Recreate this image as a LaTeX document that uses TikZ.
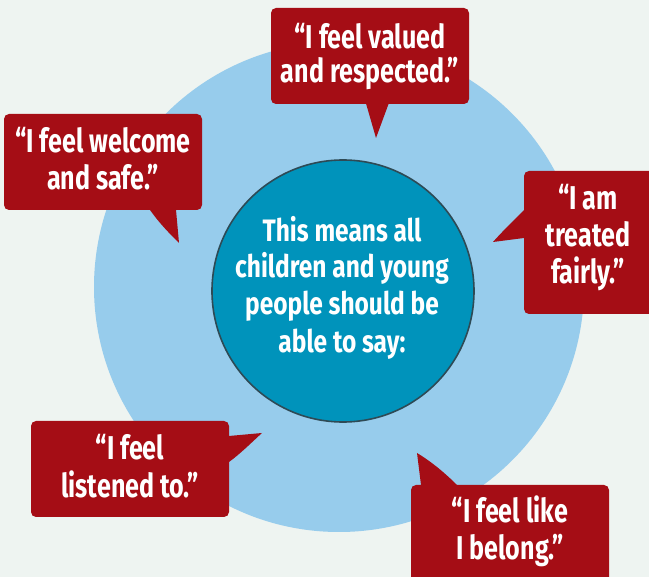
\documentclass[tikz,border=0pt]{standalone}
\usepackage{fontspec}
\newfontfamily\bubblefont[FakeStretch=0.76]{Fira Sans}
\newfontfamily\circlefont[FakeStretch=0.79]{Fira Sans}
\definecolor{bgcol}{RGB}{238,244,241}
\definecolor{outercol}{RGB}{151,204,236}
\definecolor{innercol}{RGB}{0,147,187}
\definecolor{innerline}{RGB}{46,74,85}
\definecolor{qred}{RGB}{165,13,21}
\begin{document}
\begin{tikzpicture}[x=1pt,y=-1pt,
  btxt/.style={text=white, font=\bubblefont\bfseries\fontsize{33}{37}\selectfont, anchor=base, inner sep=0pt},
  ctxt/.style={text=white, font=\circlefont\bfseries\fontsize{31}{37}\selectfont, anchor=base, inner sep=0pt},
  bubble/.style={fill=qred, rounded corners=5pt},
  tail/.style={fill=qred}]
\fill[bgcol] (0,0) rectangle (649,577);
\useasboundingbox (0,0) rectangle (649,577);
% circles
\node[circle, fill=outercol, minimum size=490pt, inner sep=0pt] (outer) at (339,287) {};
\node[circle, fill=innercol, draw=innerline, line width=1.6pt, minimum size=262pt, inner sep=0pt] (inner) at (343,291) {};
\node[ctxt] (c1) at (342,242) {This means all};
\node[ctxt] (c2) at (342,278) {children and young};
\node[ctxt] (c3) at (342,315) {people should be};
\node[ctxt] (c4) at (342,353) {able to say:};
% top bubble
\fill[bubble] (271,8) rectangle (469,104);
\fill[tail] (365,100) -- (390,100) -- (376,138) -- cycle;
\node[btxt] (t1) at (370,49) {“I feel valued};
\node[btxt] (t2) at (370,83) {and respected.”};
% left bubble
\fill[bubble] (4,114) rectangle (202,210);
\fill[tail] (150,206) -- (150,210) .. controls (160,224) and (170,234) .. (179,243) -- (176,210) -- (176,206) -- cycle;
\node[btxt] (l1) at (103,153) {“I feel welcome};
\node[btxt] (l2) at (103,190) {and safe.”};
% right bubble
\fill[bubble] (524,171) rectangle (656,314);
\fill[tail] (528,210) -- (524,210) .. controls (510,224) and (500,234) .. (493,242) -- (524,238) -- (528,238) -- cycle;
\node[btxt] (r1) at (588,210) {“I am};
\node[btxt] (r2) at (588,247) {treated};
\node[btxt] (r3) at (588,284) {fairly.”};
% bottom-left bubble
\fill[bubble] (31,421) rectangle (229,517);
\fill[tail] (225,436) -- (229,436) -- (262,433) .. controls (250,444) and (240,454) .. (229,462) -- (225,462) -- cycle;
\node[btxt] (b1) at (130,460) {“I feel};
\node[btxt] (b2) at (130,498) {listened to.”};
% bottom-right bubble
\fill[bubble] (411,485) rectangle (609,585);
\fill[tail] (421,489) -- (421,485) -- (417,453) .. controls (432,462) and (446,474) .. (457,485) -- (457,489) -- cycle;
\node[btxt] (d1) at (510,523) {“I feel like};
\node[btxt] (d2) at (510,560) {I belong.”};
\end{tikzpicture}
\end{document}
